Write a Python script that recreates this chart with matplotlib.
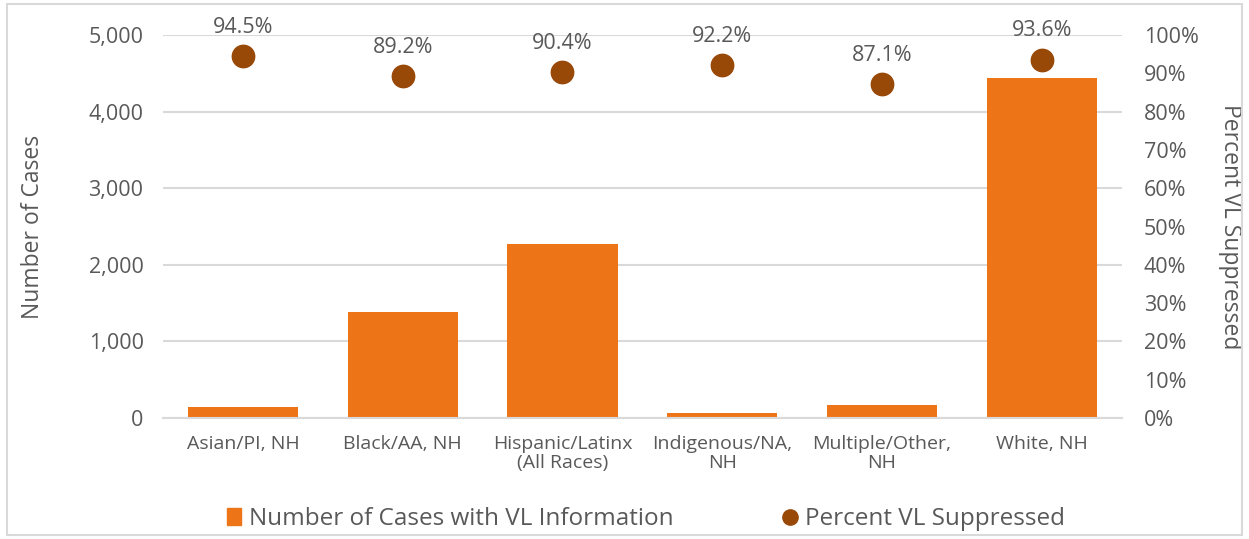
import matplotlib.pyplot as plt
from matplotlib.patches import Rectangle
from matplotlib.lines import Line2D
import numpy as np

categories = ['Asian/PI, NH', 'Black/AA, NH', 'Hispanic/Latinx\n(All Races)',
              'Indigenous/NA,\nNH', 'Multiple/Other,\nNH', 'White, NH']
cases = [140, 1390, 2270, 60, 170, 4440]
pct_suppressed = [94.5, 89.2, 90.4, 92.2, 87.1, 93.6]

bar_color = '#EE7418'
dot_color = '#984807'
text_color = '#595959'
grid_color = '#D9D9D9'

plt.rcParams['font.family'] = ['Open Sans', 'DejaVu Sans']

fig = plt.figure(figsize=(12.49, 5.39), dpi=100)
ax = fig.add_axes([0.1305, 0.2245, 0.7675, 0.7105])
ax2 = ax.twinx()

x = np.arange(len(categories))
ax.bar(x, cases, width=0.69, color=bar_color, zorder=2)
ax.set_ylim(0, 5000)
ax.set_xlim(-0.5, len(categories) - 0.5)
ax.set_yticks(range(0, 5001, 1000))
ax.set_yticklabels([f'{v:,}' for v in range(0, 5001, 1000)])
ax.yaxis.grid(True, color=grid_color, linewidth=1.5, zorder=0)
ax.set_axisbelow(True)
ax.set_xticks(x)
ax.set_xticklabels(categories, linespacing=1.1)
ax.tick_params(axis='x', length=0, labelsize=14, colors=text_color, pad=12)
ax.tick_params(axis='y', length=0, labelsize=15.5, colors=text_color, pad=14)
ax.set_ylabel('Number of Cases', fontsize=16.5, color=text_color, labelpad=31)
for s in ['top', 'right', 'left']:
    ax.spines[s].set_visible(False)
ax.spines['bottom'].set_color(grid_color)
ax.spines['bottom'].set_linewidth(1.5)

ax2.scatter(x, pct_suppressed, s=260, color=dot_color, zorder=3)
for xi, p in zip(x, pct_suppressed):
    ax2.annotate(f'{p}%', (xi, p), xytext=(0, 13), textcoords='offset points',
                 ha='center', va='bottom', fontsize=15.5, color=text_color)
ax2.set_ylim(0, 100)
ax2.set_yticks(range(0, 101, 10))
ax2.set_yticklabels([f'{v}%' for v in range(0, 101, 10)])
ax2.tick_params(axis='y', length=0, labelsize=15.5, colors=text_color, pad=16)
ax2.set_ylabel('Percent VL Suppressed', fontsize=16.5, color=text_color,
               rotation=270, labelpad=31)
for s in ax2.spines.values():
    s.set_visible(False)

handles = [Rectangle((0, 0), 1, 1, color=bar_color),
           Line2D([], [], marker='o', linestyle='', color=dot_color, markersize=11)]
fig.legend(handles, ['Number of Cases with VL Information', 'Percent VL Suppressed'],
           loc='center', bbox_to_anchor=(0.517, 0.037), ncol=2, frameon=False,
           fontsize=17.5, labelcolor=text_color, handlelength=0.6, handletextpad=0.3,
           columnspacing=4.5)

fig.patches.append(Rectangle((0.006, 0.008), 0.988, 0.984, transform=fig.transFigure,
                             fill=False, edgecolor=grid_color, linewidth=1.5))

fig.savefig('out.png', dpi=100)
